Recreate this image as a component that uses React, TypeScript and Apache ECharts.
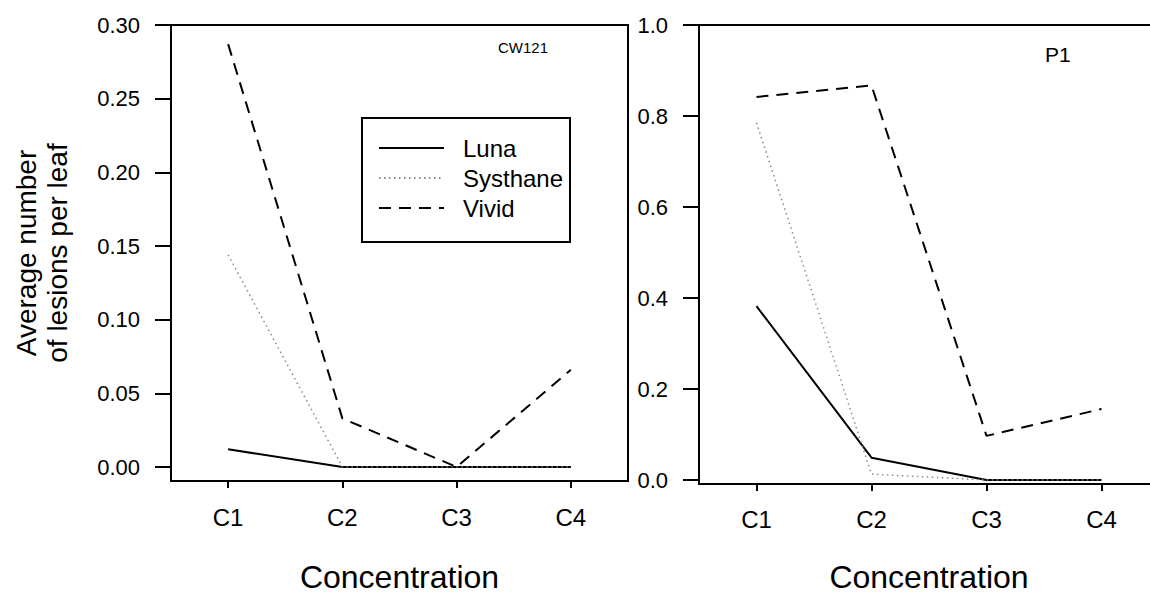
import React, { useEffect, useRef } from "react";
import * as echarts from "echarts";

const categories = ["C1", "C2", "C3", "C4"];
const cwLuna = [0.012, 0, 0, 0];
const cwSysthane = [0.144, 0, 0, 0];
const cwVivid = [0.287, 0.033, 0, 0.066];
const p1Luna = [0.382, 0.049, 0, 0];
const p1Systhane = [0.785, 0.013, 0, 0];
const p1Vivid = [0.842, 0.867, 0.097, 0.156];
const seriesNames = ["Luna", "Systhane", "Vivid"];

const FONT = "Arial, 'Liberation Sans', Helvetica, sans-serif";

export default function App() {
  const ref = useRef<HTMLDivElement>(null);
  useEffect(() => {
    if (!ref.current) return;
    const chart = echarts.init(ref.current, null, { renderer: "svg" });
    const styles: Record<string, any> = {
      Luna: { color: "#000", width: 2, type: "solid" },
      Systhane: { color: "#8a8a8a", width: 1.5, type: [1.5, 3.5] },
      Vivid: { color: "#000", width: 2, type: [12, 8] },
    };
    const mk = (name: string, data: number[], idx: number) => ({
      type: "line",
      name,
      data,
      xAxisIndex: idx,
      yAxisIndex: idx,
      symbol: "none",
      lineStyle: styles[name],
      itemStyle: { color: styles[name].color },
    });
    const xData = (idx: number) => ({
      gridIndex: idx,
      type: "category",
      data: categories,
      boundaryGap: true,
      show: false,
    });
    const xFrame = (idx: number, margin: number, gap: number) => ({
      gridIndex: idx,
      type: "category",
      data: categories,
      boundaryGap: true,
      axisLine: { show: true, lineStyle: { color: "#000", width: 2 } },
      axisTick: { show: true, inside: false, alignWithLabel: true, length: 7, lineStyle: { color: "#000", width: 2 } },
      axisLabel: { margin, fontSize: 24, color: "#000", fontFamily: FONT },
      name: "Concentration",
      nameLocation: "middle",
      nameGap: gap,
      nameTextStyle: { fontSize: 32, color: "#000", fontFamily: FONT },
      splitLine: { show: false },
    });
    const yData = (idx: number, max: number, interval: number, dec: number) => ({
      gridIndex: idx,
      type: "value",
      min: 0,
      max,
      interval,
      axisLine: { show: false },
      axisTick: { show: true, length: 16, lineStyle: { color: "#000", width: 2 } },
      axisLabel: {
        margin: 31,
        fontSize: 22,
        color: "#000",
        fontFamily: FONT,
        formatter: (v: number) => v.toFixed(dec),
      },
      splitLine: { show: false },
    });
    const yFrame = (idx: number) => ({
      gridIndex: idx,
      type: "value",
      min: 0,
      max: 1,
      axisLine: { show: true, lineStyle: { color: "#000", width: 2 } },
      axisTick: { show: false },
      axisLabel: { show: false },
      splitLine: { show: false },
    });
    const g = (left: number, width: number, height: number, frame: boolean) => ({
      left,
      top: 25,
      width,
      height,
      containLabel: false,
      outerBoundsMode: "none",
      show: frame,
      borderColor: "#000",
      borderWidth: 2,
    });
    chart.setOption({
      animation: false,
      backgroundColor: "#fff",
      grid: [
        g(171, 457, 442, false),
        g(699, 460, 455, false),
        g(171, 457, 456, true),
        g(699, 460, 459, true),
      ],
      xAxis: [xData(0), xData(1), xFrame(2, 24, 80), xFrame(3, 23, 77)],
      yAxis: [yData(0, 0.3, 0.05, 2), yData(1, 1.0, 0.2, 1), yFrame(2), yFrame(3)],
      legend: {
        data: seriesNames,
        orient: "vertical",
        left: 378,
        top: 133,
        padding: 0,
        itemWidth: 65,
        itemHeight: 14,
        itemGap: 0,
        selectedMode: false,
        itemStyle: { opacity: 0 },
        textStyle: { fontSize: 24, lineHeight: 30, color: "#000", fontFamily: FONT, padding: [0, 0, 0, 14] },
      },
      series: [
        mk("Luna", cwLuna, 0),
        mk("Systhane", cwSysthane, 0),
        mk("Vivid", cwVivid, 0),
        mk("Luna", p1Luna, 1),
        mk("Systhane", p1Systhane, 1),
        mk("Vivid", p1Vivid, 1),
      ],
      graphic: [
        { type: "rect", shape: { x: 362, y: 118, width: 208, height: 124 }, style: { fill: "transparent", stroke: "#000", lineWidth: 2 }, z: 10 },
        {
          type: "text",
          x: 42,
          y: 253,
          rotation: Math.PI / 2,
          style: {
            text: "Average number\nof lesions per leaf",
            fontSize: 28,
            lineHeight: 31,
            fill: "#000",
            fontFamily: FONT,
            align: "center",
            verticalAlign: "middle",
          },
        },
        { type: "text", x: 498, y: 47, style: { text: "CW121", fontSize: 15, fill: "#000", fontFamily: FONT, align: "left", verticalAlign: "middle" } },
        { type: "text", x: 1045, y: 54, style: { text: "P1", fontSize: 21, fill: "#000", fontFamily: FONT, align: "left", verticalAlign: "middle" } },
      ],
    });
    return () => chart.dispose();
  }, []);
  return <div ref={ref} style={{ position: "absolute", left: 0, top: 0, width: 1150, height: 594 }} />;
}
